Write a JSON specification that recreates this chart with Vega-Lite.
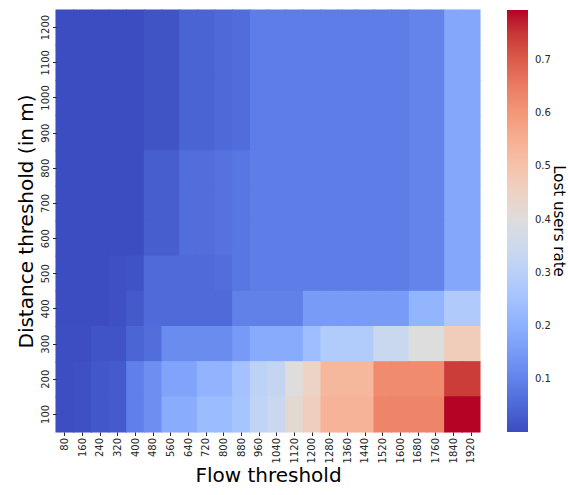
{
  "$schema": "https://vega.github.io/schema/vega-lite/v6.json",
  "width": 424,
  "height": 422,
  "autosize": {"type": "none"},
  "padding": {"left": 56, "top": 10, "right": 88, "bottom": 63},
  "background": "white",
  "config": {
    "font": "DejaVu Sans",
    "view": {"stroke": null},
    "axis": {"labelColor": "#262626", "titleColor": "#000000", "tickColor": "#262626", "domain": false, "grid": false, "labelFontSize": 10, "tickSize": 3.5, "titleFontWeight": "normal", "titleFontSize": 20},
    "legend": {"labelFontSize": 10, "labelColor": "#262626", "titleFontWeight": "normal", "titleFontSize": 15, "titleColor": "#000000"}
  },
  "data": {
    "values": [
      {"flow":80,"dist":1200,"rate":0.003},{"flow":160,"dist":1200,"rate":0.003},{"flow":240,"dist":1200,"rate":0.003},{"flow":320,"dist":1200,"rate":0.003},{"flow":400,"dist":1200,"rate":0.003},{"flow":480,"dist":1200,"rate":0.015},{"flow":560,"dist":1200,"rate":0.015},{"flow":640,"dist":1200,"rate":0.044},{"flow":720,"dist":1200,"rate":0.044},{"flow":800,"dist":1200,"rate":0.052},{"flow":880,"dist":1200,"rate":0.06},{"flow":960,"dist":1200,"rate":0.09},{"flow":1040,"dist":1200,"rate":0.09},{"flow":1120,"dist":1200,"rate":0.09},{"flow":1200,"dist":1200,"rate":0.09},{"flow":1280,"dist":1200,"rate":0.09},{"flow":1360,"dist":1200,"rate":0.09},{"flow":1440,"dist":1200,"rate":0.09},{"flow":1520,"dist":1200,"rate":0.09},{"flow":1600,"dist":1200,"rate":0.09},{"flow":1680,"dist":1200,"rate":0.105},{"flow":1760,"dist":1200,"rate":0.105},{"flow":1840,"dist":1200,"rate":0.18},{"flow":1920,"dist":1200,"rate":0.18},
      {"flow":80,"dist":1100,"rate":0.003},{"flow":160,"dist":1100,"rate":0.003},{"flow":240,"dist":1100,"rate":0.003},{"flow":320,"dist":1100,"rate":0.003},{"flow":400,"dist":1100,"rate":0.003},{"flow":480,"dist":1100,"rate":0.015},{"flow":560,"dist":1100,"rate":0.015},{"flow":640,"dist":1100,"rate":0.044},{"flow":720,"dist":1100,"rate":0.044},{"flow":800,"dist":1100,"rate":0.052},{"flow":880,"dist":1100,"rate":0.06},{"flow":960,"dist":1100,"rate":0.09},{"flow":1040,"dist":1100,"rate":0.09},{"flow":1120,"dist":1100,"rate":0.09},{"flow":1200,"dist":1100,"rate":0.09},{"flow":1280,"dist":1100,"rate":0.09},{"flow":1360,"dist":1100,"rate":0.09},{"flow":1440,"dist":1100,"rate":0.09},{"flow":1520,"dist":1100,"rate":0.09},{"flow":1600,"dist":1100,"rate":0.09},{"flow":1680,"dist":1100,"rate":0.105},{"flow":1760,"dist":1100,"rate":0.105},{"flow":1840,"dist":1100,"rate":0.18},{"flow":1920,"dist":1100,"rate":0.18},
      {"flow":80,"dist":1000,"rate":0.003},{"flow":160,"dist":1000,"rate":0.003},{"flow":240,"dist":1000,"rate":0.003},{"flow":320,"dist":1000,"rate":0.003},{"flow":400,"dist":1000,"rate":0.003},{"flow":480,"dist":1000,"rate":0.015},{"flow":560,"dist":1000,"rate":0.015},{"flow":640,"dist":1000,"rate":0.044},{"flow":720,"dist":1000,"rate":0.044},{"flow":800,"dist":1000,"rate":0.052},{"flow":880,"dist":1000,"rate":0.06},{"flow":960,"dist":1000,"rate":0.09},{"flow":1040,"dist":1000,"rate":0.09},{"flow":1120,"dist":1000,"rate":0.09},{"flow":1200,"dist":1000,"rate":0.09},{"flow":1280,"dist":1000,"rate":0.09},{"flow":1360,"dist":1000,"rate":0.09},{"flow":1440,"dist":1000,"rate":0.09},{"flow":1520,"dist":1000,"rate":0.09},{"flow":1600,"dist":1000,"rate":0.09},{"flow":1680,"dist":1000,"rate":0.105},{"flow":1760,"dist":1000,"rate":0.105},{"flow":1840,"dist":1000,"rate":0.18},{"flow":1920,"dist":1000,"rate":0.18},
      {"flow":80,"dist":900,"rate":0.003},{"flow":160,"dist":900,"rate":0.003},{"flow":240,"dist":900,"rate":0.003},{"flow":320,"dist":900,"rate":0.003},{"flow":400,"dist":900,"rate":0.003},{"flow":480,"dist":900,"rate":0.015},{"flow":560,"dist":900,"rate":0.015},{"flow":640,"dist":900,"rate":0.044},{"flow":720,"dist":900,"rate":0.044},{"flow":800,"dist":900,"rate":0.052},{"flow":880,"dist":900,"rate":0.06},{"flow":960,"dist":900,"rate":0.09},{"flow":1040,"dist":900,"rate":0.09},{"flow":1120,"dist":900,"rate":0.09},{"flow":1200,"dist":900,"rate":0.09},{"flow":1280,"dist":900,"rate":0.09},{"flow":1360,"dist":900,"rate":0.09},{"flow":1440,"dist":900,"rate":0.09},{"flow":1520,"dist":900,"rate":0.09},{"flow":1600,"dist":900,"rate":0.09},{"flow":1680,"dist":900,"rate":0.105},{"flow":1760,"dist":900,"rate":0.105},{"flow":1840,"dist":900,"rate":0.18},{"flow":1920,"dist":900,"rate":0.18},
      {"flow":80,"dist":800,"rate":0.003},{"flow":160,"dist":800,"rate":0.003},{"flow":240,"dist":800,"rate":0.003},{"flow":320,"dist":800,"rate":0.003},{"flow":400,"dist":800,"rate":0.003},{"flow":480,"dist":800,"rate":0.032},{"flow":560,"dist":800,"rate":0.032},{"flow":640,"dist":800,"rate":0.062},{"flow":720,"dist":800,"rate":0.062},{"flow":800,"dist":800,"rate":0.07},{"flow":880,"dist":800,"rate":0.08},{"flow":960,"dist":800,"rate":0.09},{"flow":1040,"dist":800,"rate":0.09},{"flow":1120,"dist":800,"rate":0.09},{"flow":1200,"dist":800,"rate":0.09},{"flow":1280,"dist":800,"rate":0.09},{"flow":1360,"dist":800,"rate":0.09},{"flow":1440,"dist":800,"rate":0.09},{"flow":1520,"dist":800,"rate":0.09},{"flow":1600,"dist":800,"rate":0.09},{"flow":1680,"dist":800,"rate":0.105},{"flow":1760,"dist":800,"rate":0.105},{"flow":1840,"dist":800,"rate":0.18},{"flow":1920,"dist":800,"rate":0.18},
      {"flow":80,"dist":700,"rate":0.003},{"flow":160,"dist":700,"rate":0.003},{"flow":240,"dist":700,"rate":0.003},{"flow":320,"dist":700,"rate":0.003},{"flow":400,"dist":700,"rate":0.003},{"flow":480,"dist":700,"rate":0.032},{"flow":560,"dist":700,"rate":0.032},{"flow":640,"dist":700,"rate":0.062},{"flow":720,"dist":700,"rate":0.062},{"flow":800,"dist":700,"rate":0.07},{"flow":880,"dist":700,"rate":0.08},{"flow":960,"dist":700,"rate":0.09},{"flow":1040,"dist":700,"rate":0.09},{"flow":1120,"dist":700,"rate":0.09},{"flow":1200,"dist":700,"rate":0.09},{"flow":1280,"dist":700,"rate":0.09},{"flow":1360,"dist":700,"rate":0.09},{"flow":1440,"dist":700,"rate":0.09},{"flow":1520,"dist":700,"rate":0.09},{"flow":1600,"dist":700,"rate":0.09},{"flow":1680,"dist":700,"rate":0.105},{"flow":1760,"dist":700,"rate":0.105},{"flow":1840,"dist":700,"rate":0.18},{"flow":1920,"dist":700,"rate":0.18},
      {"flow":80,"dist":600,"rate":0.003},{"flow":160,"dist":600,"rate":0.003},{"flow":240,"dist":600,"rate":0.003},{"flow":320,"dist":600,"rate":0.003},{"flow":400,"dist":600,"rate":0.003},{"flow":480,"dist":600,"rate":0.032},{"flow":560,"dist":600,"rate":0.032},{"flow":640,"dist":600,"rate":0.062},{"flow":720,"dist":600,"rate":0.062},{"flow":800,"dist":600,"rate":0.07},{"flow":880,"dist":600,"rate":0.08},{"flow":960,"dist":600,"rate":0.09},{"flow":1040,"dist":600,"rate":0.09},{"flow":1120,"dist":600,"rate":0.09},{"flow":1200,"dist":600,"rate":0.09},{"flow":1280,"dist":600,"rate":0.09},{"flow":1360,"dist":600,"rate":0.09},{"flow":1440,"dist":600,"rate":0.09},{"flow":1520,"dist":600,"rate":0.09},{"flow":1600,"dist":600,"rate":0.09},{"flow":1680,"dist":600,"rate":0.105},{"flow":1760,"dist":600,"rate":0.105},{"flow":1840,"dist":600,"rate":0.18},{"flow":1920,"dist":600,"rate":0.18},
      {"flow":80,"dist":500,"rate":0.003},{"flow":160,"dist":500,"rate":0.003},{"flow":240,"dist":500,"rate":0.003},{"flow":320,"dist":500,"rate":0.008},{"flow":400,"dist":500,"rate":0.014},{"flow":480,"dist":500,"rate":0.055},{"flow":560,"dist":500,"rate":0.055},{"flow":640,"dist":500,"rate":0.055},{"flow":720,"dist":500,"rate":0.055},{"flow":800,"dist":500,"rate":0.062},{"flow":880,"dist":500,"rate":0.08},{"flow":960,"dist":500,"rate":0.09},{"flow":1040,"dist":500,"rate":0.09},{"flow":1120,"dist":500,"rate":0.09},{"flow":1200,"dist":500,"rate":0.09},{"flow":1280,"dist":500,"rate":0.09},{"flow":1360,"dist":500,"rate":0.09},{"flow":1440,"dist":500,"rate":0.09},{"flow":1520,"dist":500,"rate":0.09},{"flow":1600,"dist":500,"rate":0.09},{"flow":1680,"dist":500,"rate":0.105},{"flow":1760,"dist":500,"rate":0.105},{"flow":1840,"dist":500,"rate":0.18},{"flow":1920,"dist":500,"rate":0.18},
      {"flow":80,"dist":400,"rate":0.003},{"flow":160,"dist":400,"rate":0.003},{"flow":240,"dist":400,"rate":0.003},{"flow":320,"dist":400,"rate":0.008},{"flow":400,"dist":400,"rate":0.025},{"flow":480,"dist":400,"rate":0.055},{"flow":560,"dist":400,"rate":0.055},{"flow":640,"dist":400,"rate":0.055},{"flow":720,"dist":400,"rate":0.055},{"flow":800,"dist":400,"rate":0.055},{"flow":880,"dist":400,"rate":0.098},{"flow":960,"dist":400,"rate":0.098},{"flow":1040,"dist":400,"rate":0.098},{"flow":1120,"dist":400,"rate":0.098},{"flow":1200,"dist":400,"rate":0.152},{"flow":1280,"dist":400,"rate":0.152},{"flow":1360,"dist":400,"rate":0.152},{"flow":1440,"dist":400,"rate":0.152},{"flow":1520,"dist":400,"rate":0.152},{"flow":1600,"dist":400,"rate":0.152},{"flow":1680,"dist":400,"rate":0.212},{"flow":1760,"dist":400,"rate":0.212},{"flow":1840,"dist":400,"rate":0.279},{"flow":1920,"dist":400,"rate":0.279},
      {"flow":80,"dist":300,"rate":0.004},{"flow":160,"dist":300,"rate":0.004},{"flow":240,"dist":300,"rate":0.016},{"flow":320,"dist":300,"rate":0.016},{"flow":400,"dist":300,"rate":0.045},{"flow":480,"dist":300,"rate":0.062},{"flow":560,"dist":300,"rate":0.12},{"flow":640,"dist":300,"rate":0.12},{"flow":720,"dist":300,"rate":0.12},{"flow":800,"dist":300,"rate":0.12},{"flow":880,"dist":300,"rate":0.15},{"flow":960,"dist":300,"rate":0.188},{"flow":1040,"dist":300,"rate":0.188},{"flow":1120,"dist":300,"rate":0.188},{"flow":1200,"dist":300,"rate":0.237},{"flow":1280,"dist":300,"rate":0.283},{"flow":1360,"dist":300,"rate":0.283},{"flow":1440,"dist":300,"rate":0.283},{"flow":1520,"dist":300,"rate":0.343},{"flow":1600,"dist":300,"rate":0.343},{"flow":1680,"dist":300,"rate":0.397},{"flow":1760,"dist":300,"rate":0.397},{"flow":1840,"dist":300,"rate":0.469},{"flow":1920,"dist":300,"rate":0.469},
      {"flow":80,"dist":200,"rate":0.004},{"flow":160,"dist":200,"rate":0.008},{"flow":240,"dist":200,"rate":0.02},{"flow":320,"dist":200,"rate":0.028},{"flow":400,"dist":200,"rate":0.095},{"flow":480,"dist":200,"rate":0.128},{"flow":560,"dist":200,"rate":0.172},{"flow":640,"dist":200,"rate":0.172},{"flow":720,"dist":200,"rate":0.21},{"flow":800,"dist":200,"rate":0.21},{"flow":880,"dist":200,"rate":0.249},{"flow":960,"dist":200,"rate":0.308},{"flow":1040,"dist":200,"rate":0.328},{"flow":1120,"dist":200,"rate":0.4},{"flow":1200,"dist":200,"rate":0.447},{"flow":1280,"dist":200,"rate":0.529},{"flow":1360,"dist":200,"rate":0.529},{"flow":1440,"dist":200,"rate":0.529},{"flow":1520,"dist":200,"rate":0.623},{"flow":1600,"dist":200,"rate":0.623},{"flow":1680,"dist":200,"rate":0.623},{"flow":1760,"dist":200,"rate":0.623},{"flow":1840,"dist":200,"rate":0.745},{"flow":1920,"dist":200,"rate":0.745},
      {"flow":80,"dist":100,"rate":0.004},{"flow":160,"dist":100,"rate":0.008},{"flow":240,"dist":100,"rate":0.02},{"flow":320,"dist":100,"rate":0.028},{"flow":400,"dist":100,"rate":0.095},{"flow":480,"dist":100,"rate":0.128},{"flow":560,"dist":100,"rate":0.19},{"flow":640,"dist":100,"rate":0.19},{"flow":720,"dist":100,"rate":0.231},{"flow":800,"dist":100,"rate":0.231},{"flow":880,"dist":100,"rate":0.257},{"flow":960,"dist":100,"rate":0.318},{"flow":1040,"dist":100,"rate":0.342},{"flow":1120,"dist":100,"rate":0.42},{"flow":1200,"dist":100,"rate":0.463},{"flow":1280,"dist":100,"rate":0.54},{"flow":1360,"dist":100,"rate":0.54},{"flow":1440,"dist":100,"rate":0.54},{"flow":1520,"dist":100,"rate":0.635},{"flow":1600,"dist":100,"rate":0.635},{"flow":1680,"dist":100,"rate":0.635},{"flow":1760,"dist":100,"rate":0.635},{"flow":1840,"dist":100,"rate":0.794},{"flow":1920,"dist":100,"rate":0.794}
    ]
  },
  "mark": {"type": "rect", "width": {"band": 1.06}, "height": {"band": 1.03}},
  "encoding": {
    "x": {
      "field": "flow", "type": "ordinal", "sort": "ascending",
      "scale": {"paddingInner": 0, "paddingOuter": 0},
      "axis": {"title": "Flow threshold", "labelAngle": 270, "titlePadding": 3, "labelPadding": 2}
    },
    "y": {
      "field": "dist", "type": "ordinal", "sort": "descending",
      "scale": {"paddingInner": 0, "paddingOuter": 0},
      "axis": {"title": "Distance threshold (in m)", "labelAngle": 270, "titlePadding": 4, "labelPadding": 2}
    },
    "color": {
      "field": "rate", "type": "quantitative",
      "scale": {
        "domain": [0.001, 0.05056, 0.10013, 0.14969, 0.19925, 0.24881, 0.29838, 0.34794, 0.3975, 0.44706, 0.49663, 0.54619, 0.59575, 0.64531, 0.69488, 0.74444, 0.794],
        "range": ["#3b4cc0", "#4d68d7", "#6282ea", "#779af7", "#8db0fe", "#a3c2ff", "#b8d0f9", "#ccd9ee", "#dddddd", "#ecd3c5", "#f5c4ad", "#f7b194", "#f49a7b", "#ec7f63", "#de604d", "#cb3e38", "#b40426"],
        "interpolate": "rgb"
      },
      "legend": {
        "type": "gradient",
        "title": "Lost users rate",
        "orient": "right",
        "offset": 27,
        "direction": "vertical",
        "gradientLength": 422,
        "gradientThickness": 21,
        "gradientStrokeWidth": 0,
        "format": ".1f",
        "tickCount": 8,
        "labelOffset": 7,
        "titleOrient": "right",
        "titleAngle": 270,
        "titleAnchor": "middle",
        "titleBaseline": "middle",
        "titlePadding": 8
      }
    }
  }
}
